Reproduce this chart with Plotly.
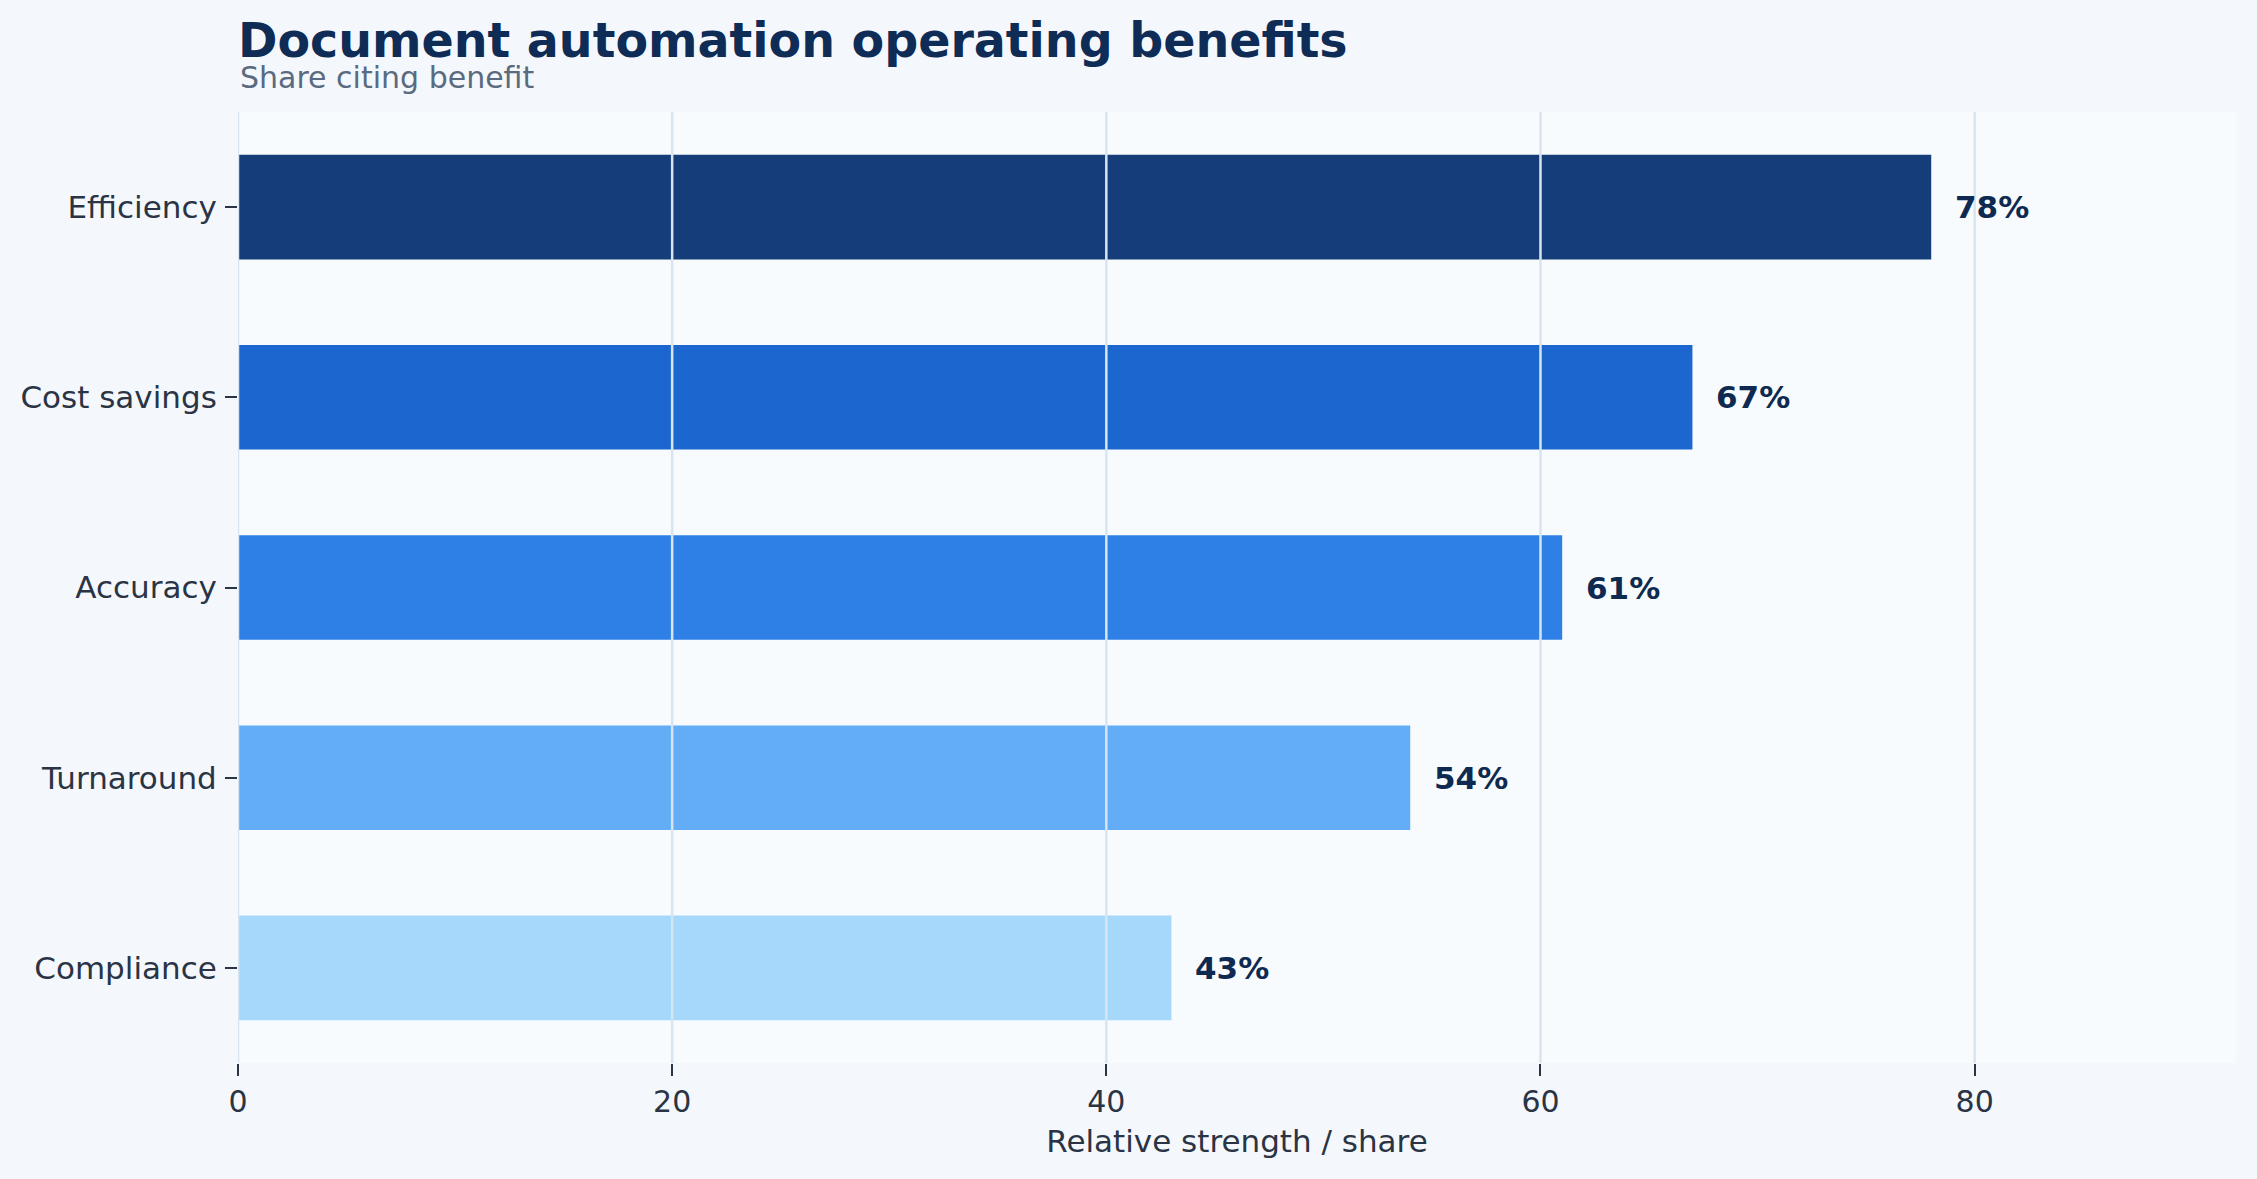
"""Document automation operating benefits - horizontal bar chart"""

import plotly.graph_objects as go

# Data
categories = ['Efficiency', 'Cost savings', 'Accuracy', 'Turnaround', 'Compliance']
shares = [78, 67, 61, 54, 43]
bar_colors = ['#143D79', '#1C67CF', '#2F80E6', '#62ADF5', '#A6D8FC']
x_ticks = [0, 20, 40, 60, 80]

title_text = 'Document automation operating benefits'
subtitle_text = 'Share citing benefit'
x_title = 'Relative strength / share'

font_family = 'DejaVu Sans, Verdana, sans-serif'


def main():

    fig = go.Figure()

    fig.add_trace(
        go.Bar(
            x=shares, y=categories, orientation='h',
            marker=dict(color=bar_colors, line=dict(width=0)),
            hoverinfo='skip', showlegend=False,
        )
    )

    # value labels right of each bar
    for cat, val in zip(categories, shares):
        fig.add_annotation(
            x=val, y=cat, text=f'{val}%', showarrow=False,
            xanchor='left', yanchor='middle', xshift=22,
            font=dict(family=font_family, size=31, color='#0E2A50', weight='bold'),
        )

    # gridlines drawn over the bars
    for t in x_ticks:
        fig.add_shape(
            type='line', xref='x', yref='paper', x0=t, x1=t, y0=0, y1=1,
            line=dict(color='#D8E5F1', width=2.5), layer='above',
        )

    # subtitle (plot area is 951 px tall, top at 112 px)
    fig.add_annotation(
        xref='paper', yref='paper', x=0, y=1 + (112 - 97) / 951,
        xanchor='left', yanchor='bottom', showarrow=False,
        text=subtitle_text,
        font=dict(family=font_family, size=30, color='#5A6B80'),
    )

    fig.update_layout(
        width=2257, height=1179,
        paper_bgcolor='#F4F8FC', plot_bgcolor='#F7FBFE',
        margin=dict(l=238, r=21, t=112, b=116),
        bargap=0.45,
        font=dict(family=font_family, size=30, color='#2A3444'),
        title=dict(
            text=title_text, x=238 / 2257, xanchor='left',
            y=1 - 57 / 1179, yanchor='bottom', yref='container',
            font=dict(family=font_family, size=47.5, color='#0E2C55', weight='bold'),
        ),
    )

    fig.update_xaxes(
        range=[0, max(shares) * 1.18], tickvals=x_ticks,
        showgrid=False, zeroline=False, showline=False,
        ticks='outside', ticklen=12, tickwidth=2, tickcolor='#2A3444',
        tickfont=dict(size=30, color='#2A3444'),
        title=dict(text=x_title, font=dict(size=31, color='#2A3444'), standoff=12),
    )
    fig.update_yaxes(
        categoryorder='array', categoryarray=categories[::-1],
        showgrid=False, zeroline=False, showline=False,
        ticks='outside', ticklen=12, tickwidth=2, tickcolor='#2A3444',
        tickfont=dict(size=31, color='#2A3444'), ticklabelstandoff=2,
    )

    # drop the page margin so the figure sits flush in the window
    fig.write_html('out.html', config={'displayModeBar': False},
                   post_script="document.body.style.margin='0';")


if __name__ == '__main__':
    main()
